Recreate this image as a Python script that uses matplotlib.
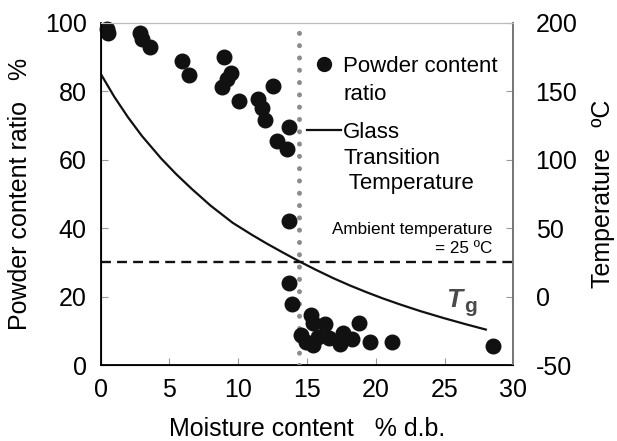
import matplotlib
matplotlib.use('Agg')
import matplotlib.pyplot as plt
from matplotlib.lines import Line2D

plt.rcParams['font.family'] = ['Liberation Sans', 'DejaVu Sans']
plt.rcParams['axes.unicode_minus'] = False

# ------------------------------------------------------------------
# Data
# ------------------------------------------------------------------
moisture = [0.45, 0.57, 2.87, 2.99, 3.59, 5.94, 6.45, 8.99, 9.46, 9.16, 8.85,
            10.08, 12.55, 11.46, 11.71, 11.95, 13.69, 12.84, 13.57, 13.71,
            13.71, 13.88, 15.27, 15.41, 16.3, 18.8, 14.6, 14.92, 15.45, 15.8,
            16.6, 17.4, 17.6, 18.24, 19.57, 21.15, 28.5]
powder_ratio = [98.2, 97.0, 97.0, 95.2, 93.1, 88.9, 84.9, 90.1, 85.3, 83.5, 81.2,
                77.3, 81.6, 77.7, 75.1, 71.6, 69.7, 65.6, 63.2, 42.2,
                23.9, 18.0, 14.6, 12.2, 12.0, 12.4, 8.8, 6.8, 5.8, 8.3,
                7.8, 6.3, 9.3, 7.5, 6.8, 6.8, 5.5]

tg_moisture = [0, 1, 2, 3, 4.4, 5.5, 6.6, 8, 9.6, 11, 12.1, 13.3, 14.5, 15.7,
               16.9, 18.1, 19.3, 20.5, 21.75, 23.2, 24.9, 26.5, 28.0]
tg_temp = [163, 146, 131, 117.5, 101, 89.5, 79, 66.5, 54, 45.2, 38.7, 32, 25.5,
           19.4, 13.6, 8.3, 3.4, -1.2, -5.6, -10.4, -15.5, -20, -24]

critical_moisture = 14.4
ambient_temp = 25

x_ticks = [0, 5, 10, 15, 20, 25, 30]
y_ticks = [0, 20, 40, 60, 80, 100]
t_ticks = [-50, 0, 50, 100, 150, 200]

# ------------------------------------------------------------------
fig = plt.figure(figsize=(6.17, 4.41), dpi=100)
ax = fig.add_axes([0.163, 0.172, 0.669, 0.776])
ax2 = ax.twinx()

ax.set_xlim(0, 30); ax.set_ylim(0, 100)
ax2.set_ylim(-50, 200)
ax.set_xticks(x_ticks); ax.set_yticks(y_ticks); ax2.set_yticks(t_ticks)

ax.scatter(moisture, powder_ratio, s=110, color='#111111', zorder=5, clip_on=False)
ax2.plot(tg_moisture, tg_temp, color='#111111', lw=1.6)
ax2.axhline(ambient_temp, color='#111111', lw=1.7, linestyle=(0, (4.2, 2.6)))
ax.axvline(critical_moisture, color='#8c8c8c', lw=3.6,
           linestyle=(0, (0.01, 2.45)), dash_capstyle='round', zorder=3)

for a in (ax, ax2):
    a.tick_params(direction='in', length=5, color='#999999', labelsize=18)
ax.tick_params(axis='y', pad=10)
ax.tick_params(axis='x', pad=9)
ax2.tick_params(axis='y', pad=16)

ax.spines['left'].set_linewidth(1.3); ax.spines['bottom'].set_linewidth(1.3)
for a in (ax, ax2):
    a.spines['top'].set_color('#bbbbbb')
    a.spines['right'].set_color('#777777')
    a.spines['right'].set_linewidth(1.3)

ax.set_xlabel('Moisture content   % d.b.', fontsize=18, labelpad=11)
ax.set_ylabel('Powder content ratio   %', fontsize=18, labelpad=9)
ax2.set_ylabel('Temperature   ºC', fontsize=18, labelpad=10)

ax2.text(28.5, 29.5, 'Ambient temperature\n= 25 ºC', fontsize=12.3,
         ha='right', va='bottom', multialignment='right', linespacing=1.35)
ax2.text(25.1, -7.6, 'T', fontsize=19, fontweight='bold', fontstyle='italic',
         color='#4a4a4a', va='baseline')
ax2.text(26.4, -11.3, 'g', fontsize=15, fontweight='bold',
         color='#4a4a4a', va='baseline')

blank = Line2D([], [], linestyle='none')
dot = Line2D([], [], linestyle='none', marker='o', markersize=10, color='#111111')
leg1 = fig.legend([dot, blank], ['Powder content', 'ratio'], loc='upper left',
                  bbox_to_anchor=(0.497, 0.873), frameon=False, fontsize=16,
                  handlelength=1.55, handletextpad=0.1, labelspacing=0.3,
                  borderpad=0, borderaxespad=0)
line = Line2D([], [], color='#111111', lw=1.6)
leg2 = fig.legend([line, blank, blank], ['Glass', 'Transition', ' Temperature'],
                  loc='upper left', bbox_to_anchor=(0.497, 0.723), frameon=False,
                  fontsize=16, handlelength=1.55, handletextpad=0.1,
                  labelspacing=0.2, borderpad=0, borderaxespad=0)

plt.savefig('out.png', dpi=100)
